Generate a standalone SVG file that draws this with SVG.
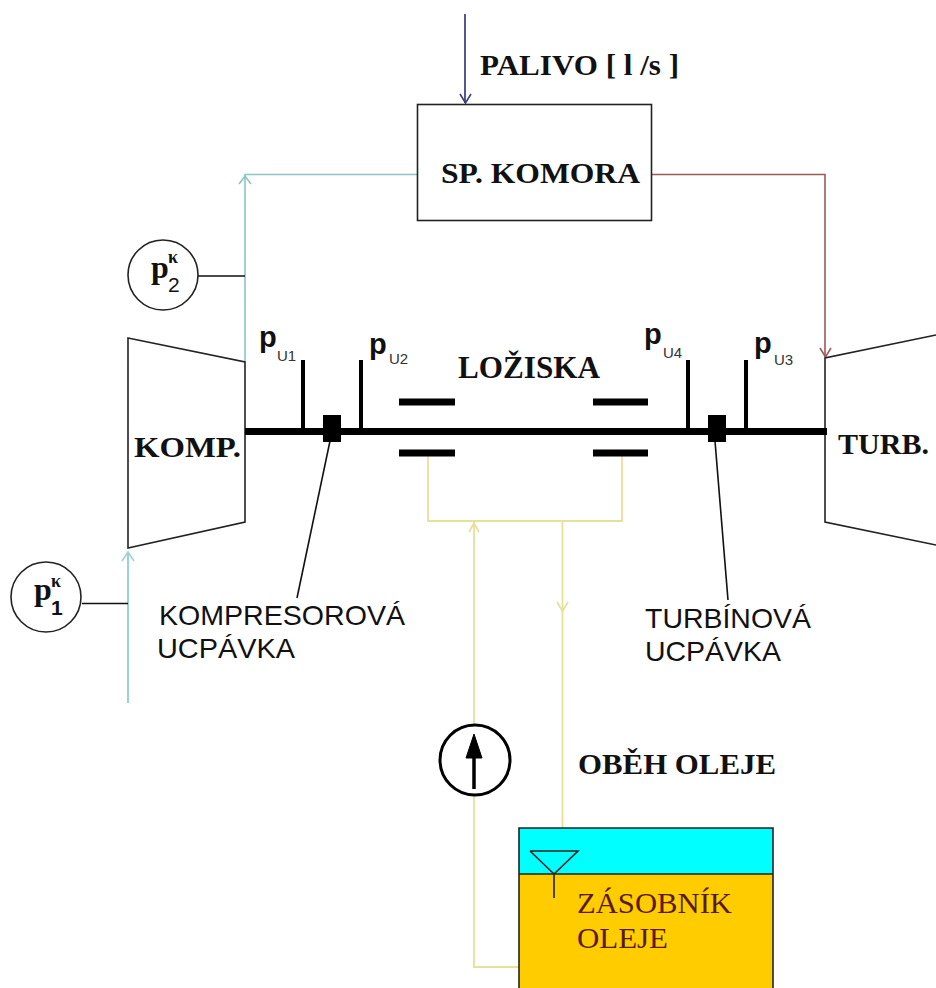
<svg xmlns="http://www.w3.org/2000/svg" width="936" height="988" viewBox="0 0 936 988">
<style>
.o{fill:none;stroke:#222;stroke-width:1.6}
.bar{fill:none;stroke:#000;stroke-width:7}
.probe{fill:none;stroke:#000;stroke-width:4}
.lead{fill:none;stroke:#111;stroke-width:1.6}
.oil{fill:none;stroke:#e6e09a;stroke-width:1.8}
.air{fill:none;stroke:#8cc4c4;stroke-width:1.6}
.s{font-family:"Liberation Serif",serif;font-weight:bold;fill:#111}
.a{font-family:"Liberation Sans",sans-serif;fill:#111}
.pb{font-family:"Liberation Sans",sans-serif;font-weight:bold;font-size:29px;fill:#111}
.sub{font-family:"Liberation Sans",sans-serif;font-size:15px;fill:#333}
</style>
<rect width="936" height="988" fill="#fff"/>
<g id="connectors">
<path d="M465 14V103" fill="none" stroke="#2c2c70" stroke-width="1.6"/>
<path d="M460 94L465.500 103L471 94" fill="none" stroke="#3c3c80" stroke-width="1.6"/>
<path class="air" d="M417 174.500H245V362"/>
<path class="air" d="M239 184L245 176L251 184"/>
<path d="M652 174.500H825V357" fill="none" stroke="#9a5a5a" stroke-width="1.6"/>
<path d="M820 348L825.500 357L831 348" fill="none" stroke="#a05a60" stroke-width="1.6"/>
<path d="M128 703V552" fill="none" stroke="#9ad4d0" stroke-width="2"/>
<path d="M122 561L128 552L134 561" fill="none" stroke="#9ad4d0" stroke-width="1.6"/>
<path class="lead" d="M198 276H245"/>
<path class="lead" d="M82 603.500H128"/>
<path class="oil" d="M428 456V521H622V456"/>
<path class="oil" d="M474 521V724"/>
<path class="oil" d="M469 532L474 523L479 532"/>
<path class="oil" d="M474 794V967H519"/>
<path class="oil" d="M562.500 521V828"/>
<path class="oil" d="M557 602L562.500 611L568 602"/>
<path class="lead" d="M330 441L297 598"/>
<path class="lead" d="M715 441L728 600"/>
</g>
<g id="kompresor"><path d="M128 338L245 362V522L128 548Z" class="o" style="fill:#fff"/><text class="s" x="134" y="457" font-size="30" textLength="107" lengthAdjust="spacingAndGlyphs">KOMP.</text></g>
<g id="turbina"><path d="M936 335L825 358V522L936 545" class="o"/><text class="s" x="838" y="454" font-size="30" textLength="91" lengthAdjust="spacingAndGlyphs">TURB.</text></g>
<g id="shaft">
<path class="bar" d="M245 431.500H827"/>
<rect x="323" y="415" width="18" height="27" fill="#000"/>
<rect x="708" y="415" width="18" height="27" fill="#000"/>
<path class="bar" d="M399 402H455M399 453H455M593 402H648M593 453H648"/>
<path class="probe" d="M303 360V431M361 360V431M688 360V431M746 360V431"/>
</g>
<g id="komora"><rect x="417.500" y="104.500" width="234" height="116" class="o" style="fill:#fff"/><text class="s" x="441" y="183" font-size="30" textLength="199" lengthAdjust="spacingAndGlyphs">SP. KOMORA</text></g>
<g id="palivo"><text class="s" x="480" y="75" font-size="30" textLength="199" lengthAdjust="spacingAndGlyphs">PALIVO [ l /s ]</text></g>
<g id="p2"><circle cx="163" cy="275" r="35" class="o"/><text class="s" x="151" y="278" font-size="32">p</text><text class="s" x="168" y="263" font-size="18">κ</text><text x="168" y="292" font-size="21" font-family="Liberation Sans,sans-serif" fill="#111">2</text></g>
<g id="p1"><circle cx="46" cy="597" r="35" class="o"/><text class="s" x="34" y="600" font-size="32">p</text><text class="s" x="51" y="587" font-size="18">κ</text><text x="51" y="615" font-size="21" font-weight="bold" font-family="Liberation Sans,sans-serif" fill="#111">1</text></g>
<g id="pu1"><text class="pb" x="259" y="347">p</text><text class="sub" x="277" y="361">U1</text></g>
<g id="pu2"><text class="pb" x="369" y="354">p</text><text class="sub" x="389" y="364">U2</text></g>
<g id="pu4"><text class="pb" x="644" y="344">p</text><text class="sub" x="663" y="358">U4</text></g>
<g id="pu3"><text class="pb" x="754" y="353">p</text><text class="sub" x="774" y="365">U3</text></g>
<g id="loziska"><text class="s" x="458" y="378" font-size="31" textLength="142" lengthAdjust="spacingAndGlyphs">LOŽISKA</text></g>
<g id="komp-ucpavka"><text class="a" x="159" y="625" font-size="28.500" textLength="246" lengthAdjust="spacingAndGlyphs">KOMPRESOROVÁ</text><text class="a" x="157" y="658" font-size="28.500" textLength="138" lengthAdjust="spacingAndGlyphs">UCPÁVKA</text></g>
<g id="turb-ucpavka"><text class="a" x="645" y="628" font-size="28.500" textLength="166" lengthAdjust="spacingAndGlyphs">TURBÍNOVÁ</text><text class="a" x="645" y="661" font-size="28.500" textLength="136" lengthAdjust="spacingAndGlyphs">UCPÁVKA</text></g>
<g id="cerpadlo"><circle cx="475" cy="760" r="35" fill="#fff" stroke="#000" stroke-width="3"/><path d="M474 789V750" stroke="#000" stroke-width="3.500" fill="none"/><path d="M474 734L466 758H482Z" fill="#000" stroke="#000"/></g>
<g id="obeh"><text class="s" x="578" y="774" font-size="30" textLength="198" lengthAdjust="spacingAndGlyphs">OBĚH OLEJE</text></g>
<g id="zasobnik">
<rect x="519" y="828" width="254" height="46" fill="#00ffff"/>
<rect x="519" y="874" width="254" height="114" fill="#ffcc00"/>
<path class="o" d="M519 988V828H773V988M519 874H773"/>
<path class="o" d="M530 851H578L554 874V898M530 851L554 874"/>
<text x="577" y="913" font-family="Liberation Serif,serif" font-size="30" fill="#5a1a10" textLength="155" lengthAdjust="spacingAndGlyphs">ZÁSOBNÍK</text>
<text x="577" y="948" font-family="Liberation Serif,serif" font-size="30" fill="#5a1a10" textLength="91" lengthAdjust="spacingAndGlyphs">OLEJE</text>
</g>
</svg>
